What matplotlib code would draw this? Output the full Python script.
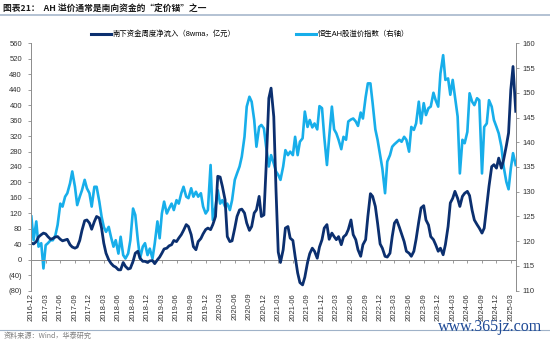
import matplotlib
matplotlib.use("Agg")
import matplotlib.pyplot as plt
from matplotlib.lines import Line2D
from matplotlib.ticker import FuncFormatter
import pandas as pd

plt.rcParams['font.family'] = ['Liberation Sans', 'Noto Sans CJK SC']

# 半月频 (1日/15日), 自 2016-12-01 起
start_date = '2016-12-01'

# 南下资金周度净流入 (8wma, 亿元)
flow = [
    43, 41, 47, 59, 65, 69, 67, 60, 53, 55, 59, 60, 53, 49, 51, 53, 39, 33, 30, 33,
    50, 76, 101, 103, 95, 79, 99, 112, 108, 82, 43, 17, 0, -9, -16, -19, -26, -26, -7, -17,
    -24, -22, -4, 17, 22, 4, -4, -4, -7, -3, -2, -10, 0, 7, 17, 28, 30, 36, 39, 50,
    47, 56, 65, 76, 91, 86, 65, 34, 26, 47, 55, 67, 78, 82, 78, 91, 112, 216, 214, 190,
    155, 60, 47, 49, 82, 112, 129, 131, 121, 95, 76, 86, 121, 129, 164, 112, 116, 241, 418, 444,
    370, 180, 20, -7, 26, 82, 86, 56, 50, 9, -34, -59, -65, -45, -7, 16, 30, 22, 4, 33,
    52, 82, 91, 53, 69, 60, 52, 60, 39, 59, 65, 78, 103, 65, 52, 26, 9, 39, 52, 112,
    171, 164, 138, 95, 41, 30, 9, 7, 17, 60, 95, 103, 84, 67, 47, 22, 17, 9, 22, 53,
    99, 134, 140, 103, 90, 60, 52, 39, 22, 30, 13, 39, 86, 147, 159, 177, 159, 138, 164, 172,
    177, 166, 128, 103, 91, 82, 69, 82, 140, 190, 241, 246, 237, 263, 237, 259, 295, 328, 440, 500,
    384,
]

# 恒生AH股溢价指数 (右轴)
premium = [
    125.0, 120.2, 124.0, 118.9, 119.6, 114.5, 119.2, 119.6, 120.2, 120.2,
    121.2, 123.3, 127.6, 127.0, 129.0, 129.7, 131.7, 134.1, 131.0, 127.3,
    129.0, 130.3, 132.4, 130.7, 129.7, 127.0, 131.0, 131.0, 128.0, 125.0,
    122.9, 121.9, 122.9, 120.9, 118.9, 120.2, 117.5, 120.9, 117.2, 116.5,
    117.5, 120.2, 126.6, 125.3, 120.2, 116.5, 118.9, 119.6, 117.2, 118.5,
    116.5, 119.5, 124.0, 120.6, 125.6, 128.0, 125.6, 126.6, 127.6, 126.3,
    128.3, 127.6, 129.7, 131.0, 129.0, 128.7, 130.7, 129.0, 130.0, 129.0,
    129.7, 127.0, 125.6, 126.3, 135.4, 124.3, 127.0, 130.3, 127.6, 128.3,
    127.0, 127.6, 126.3, 128.3, 132.4, 133.7, 135.1, 137.1, 141.1, 147.2,
    149.2, 148.2, 144.5, 139.1, 143.1, 143.5, 142.8, 139.1, 135.1, 137.4,
    135.7, 134.1, 133.4, 132.4, 135.1, 138.4, 137.4, 138.1, 137.4, 141.1,
    137.4, 140.1, 140.8, 146.2, 143.1, 144.5, 143.0, 143.8, 142.6, 147.3,
    146.9, 141.1, 135.4, 141.0, 147.2, 142.6, 141.8, 140.5, 138.6, 141.1,
    140.5, 144.2, 144.6, 144.8, 144.2, 143.3, 146.0, 144.8, 149.1, 151.9,
    151.9, 147.9, 142.6, 140.5, 137.4, 134.7, 129.7, 136.1, 137.4, 139.1,
    139.6, 140.0, 140.5, 140.1, 141.1, 140.5, 138.1, 143.1, 142.5, 143.8,
    148.2, 143.8, 147.9, 145.5, 146.9, 147.2, 150.0, 148.5, 147.2, 153.9,
    157.6, 152.6, 152.9, 149.6, 152.6, 149.2, 145.2, 133.7, 140.5, 139.8,
    142.1, 149.9, 148.2, 147.5, 148.9, 148.5, 133.7, 143.1, 143.8, 148.5,
    147.2, 144.5, 143.1, 141.8, 139.1, 135.1, 132.0, 130.5, 134.7, 137.8,
    135.4,
]

DARK = '#0b2f6f'
LIGHT = '#17aeea'
GRAY = '#8c8c8c'

dates = pd.date_range(start_date, periods=len(flow), freq='SMS')
qticks = pd.date_range('2016-12-01', '2025-03-01', freq='3MS')

fig = plt.figure(figsize=(5.5, 3.42), dpi=100)
ax = fig.add_axes([0.057, 0.150, 0.8807, 0.7234])
ax2 = ax.twinx()

ax2.plot(dates, premium, color=LIGHT, lw=1.9)
ax.plot(dates, flow, color=DARK, lw=2.0)
ax.set_zorder(ax2.get_zorder() + 1)
ax.patch.set_visible(False)

ax.set_ylim(-80, 560)
ax.set_yticks(range(-80, 561, 40))
ax.yaxis.set_major_formatter(FuncFormatter(lambda v, p: f"({abs(int(v))})" if v < 0 else f"{int(v)}"))
ax2.set_ylim(110, 160)
ax2.set_yticks(range(110, 161, 5))
ax.set_xlim(dates[0], dates[-1])

ax.set_xticks(qticks)
ax.set_xticklabels([d.strftime('%Y-%m') for d in qticks], rotation=90)
ax.tick_params(axis='x', length=0, pad=1.5, labelsize=5.5, colors='#333333')
ax.tick_params(axis='y', length=2.3, width=0.6, color=GRAY, pad=4.5, labelsize=5.5, labelcolor='#333333')
ax2.tick_params(axis='y', length=2.3, width=0.6, color=GRAY, pad=2.7, labelsize=5.5, labelcolor='#333333')

for s in ['top', 'bottom', 'right']:
    ax.spines[s].set_visible(False)
for s in ['top', 'bottom', 'left']:
    ax2.spines[s].set_visible(False)
ax.spines['left'].set_color(GRAY)
ax.spines['left'].set_linewidth(0.7)
ax2.spines['right'].set_color(GRAY)
ax2.spines['right'].set_linewidth(0.7)

# 零轴及刻度
ax.axhline(0, color=GRAY, lw=0.7, zorder=1)
ax.plot(qticks, [0] * len(qticks), ls='none', marker=3, ms=2.3, mew=0.6, color=GRAY, zorder=1)

handles = [Line2D([], [], color=DARK, lw=2.2), Line2D([], [], color=LIGHT, lw=2.2)]
fig.legend(handles, ['南下资金周度净流入（8wma，亿元）', '恒生AH股溢价指数（右轴）'],
           ncol=2, loc='center', bbox_to_anchor=(0.455, 0.900), frameon=False,
           fontsize=5.3, handlelength=2.7, handletextpad=0.3, columnspacing=8.2)

fig.text(0.006, 0.977, '图表21：  AH 溢价通常是南向资金的“定价锚”之一', fontsize=6.3,
         fontweight='bold', va='center', ha='left', color='#1a1a1a',
         family=['Noto Sans CJK SC', 'Liberation Sans'])
fig.add_artist(Line2D([0, 1], [0.956, 0.956], color='#9fb2c8', lw=1.1))
fig.add_artist(Line2D([0, 1], [0.035, 0.035], color='#9fb2c8', lw=0.8))
fig.text(0.006, 0.017, '资料来源：Wind，华泰研究', fontsize=5.1, va='center', ha='left',
         color='#7f7f7f', family=['Noto Sans CJK SC', 'Liberation Sans'])
fig.text(0.985, 0.044, 'www.365jz.com', fontsize=11.5, va='center', ha='right',
         color='#1f4a96', family='Liberation Serif')

fig.savefig('out.png', dpi=100)
plt.close(fig)
